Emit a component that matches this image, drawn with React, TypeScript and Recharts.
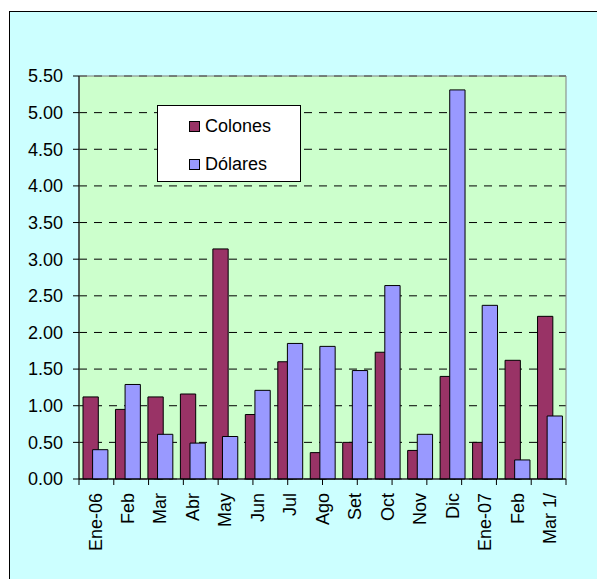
import React from 'react';
import { BarChart, Bar, XAxis, YAxis, CartesianGrid, Legend, ReferenceArea } from 'recharts';

const months = ['Ene-06', 'Feb', 'Mar', 'Abr', 'May', 'Jun', 'Jul', 'Ago', 'Set', 'Oct', 'Nov', 'Dic', 'Ene-07', 'Feb', 'Mar 1/'];
const colones = [1.12, 0.95, 1.12, 1.16, 3.14, 0.88, 1.6, 0.36, 0.5, 1.73, 0.39, 1.4, 0.5, 1.62, 2.22];
const dolares = [0.4, 1.29, 0.61, 0.49, 0.58, 1.21, 1.85, 1.81, 1.48, 2.64, 0.61, 5.31, 2.37, 0.26, 0.86];
const yTicks = [0, 0.5, 1, 1.5, 2, 2.5, 3, 3.5, 4, 4.5, 5, 5.5];
const boundaryTicks = [0, 1, 2, 3, 4, 5, 6, 7, 8, 9, 10, 11, 12, 13, 14, 15];

const COLONES_COLOR = '#993366';
const DOLARES_COLOR = '#9999FF';
const FONT = '"Liberation Sans", Arial, sans-serif';

const series = [
  { key: 'Colones', name: 'Colones', color: COLONES_COLOR },
  { key: 'Dolares', name: 'Dólares', color: DOLARES_COLOR },
];

const data = months.map((m, i) => ({ idx: i, month: m, Colones: colones[i], Dolares: dolares[i] }));

const XTick = (props: any) => {
  const { x, y, payload } = props;
  return (
    <text
      x={x}
      y={y}
      transform={`rotate(-90, ${x}, ${y})`}
      textAnchor="end"
      dy="0.35em"
      fontSize={18}
      fontFamily={FONT}
      fill="#000"
    >
      {months[payload.value]}
    </text>
  );
};

const EmptyTick = () => <g />;

const LegendBox = () => (
  <div
    style={{
      width: 144,
      height: 77,
      boxSizing: 'border-box',
      background: '#fff',
      border: '1px solid #000',
      paddingTop: 1,
      overflow: 'hidden',
      fontFamily: FONT,
      fontSize: 18,
      color: '#000',
    }}
  >
    {series.map((s) => (
      <div key={s.key} style={{ display: 'flex', alignItems: 'center', height: 38 }}>
        <span
          style={{
            display: 'inline-block',
            width: 9,
            height: 9,
            background: s.color,
            border: '1px solid #000',
            marginLeft: 31,
            marginRight: 5,
          }}
        />
        <span>{s.name}</span>
      </div>
    ))}
  </div>
);

export default function App() {
  return (
    <div style={{ position: 'absolute', left: 0, top: 0, width: 597, height: 579, overflow: 'hidden', background: '#fff' }}>
      <div
        style={{
          position: 'absolute',
          left: 9,
          top: 11,
          width: 640,
          height: 640,
          background: '#CCFFFF',
          borderLeft: '1px solid #000',
          borderTop: '1px solid #000',
        }}
      />
      <div style={{ position: 'absolute', left: 0, top: 0 }}>
        <BarChart
          width={597}
          height={579}
          data={data}
          margin={{ top: 76, right: 31, bottom: 0, left: 0 }}
          barSize={15.3}
          barGap={-5.7}
        >
          <CartesianGrid
            xAxisId="b"
            vertical={false}
            fill="#CCFFCC"
            stroke="#000"
            strokeDasharray="8 7"
          />
          <ReferenceArea xAxisId="b" y1={0} y2={5.5} fill="none" stroke="#808080" strokeWidth={1} />
          <XAxis
            xAxisId="a"
            type="number"
            domain={[0, 15]}
            ticks={boundaryTicks}
            allowDataOverflow
            height={1}
            axisLine={{ stroke: '#000' }}
            tickLine={{ stroke: '#000' }}
            tickSize={6}
            tick={EmptyTick}
            interval={0}
          />
          <XAxis
            xAxisId="b"
            dataKey="idx"
            type="category"
            height={99}
            axisLine={false}
            tickLine={false}
            tickSize={6}
            tickMargin={7}
            interval={0}
            tick={<XTick />}
          />
          <YAxis
            domain={[0, 5.5]}
            ticks={yTicks}
            width={79}
            interval={0}
            tickFormatter={(v: number) => v.toFixed(2)}
            axisLine={{ stroke: '#000' }}
            tickLine={{ stroke: '#000' }}
            tickSize={6}
            tickMargin={10}
            tick={{ fill: '#000', fontSize: 18, fontFamily: FONT }}
          />
          <Legend
            layout="horizontal"
            verticalAlign="middle"
            align="center"
            content={<LegendBox />}
            wrapperStyle={{ left: 157, top: 105, width: 144, height: 77 }}
          />
          <Bar xAxisId="b" dataKey="Colones" name="Colones" fill={COLONES_COLOR} stroke="#000" strokeWidth={1} isAnimationActive={false} />
          <Bar xAxisId="b" dataKey="Dolares" name="Dólares" fill={DOLARES_COLOR} stroke="#000" strokeWidth={1} isAnimationActive={false} />
        </BarChart>
      </div>
    </div>
  );
}
